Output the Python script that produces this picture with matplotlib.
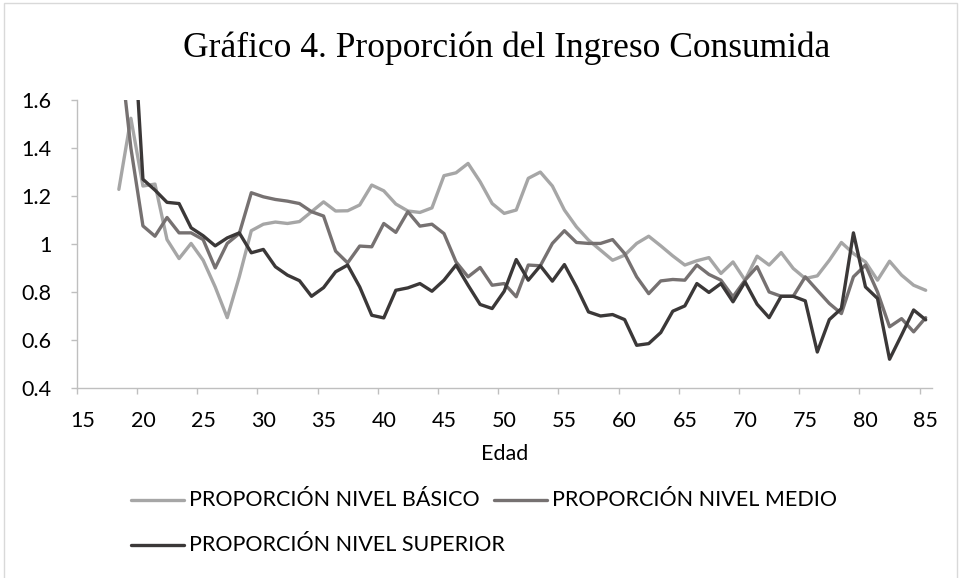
import numpy as np
import matplotlib
matplotlib.use("Agg")
import matplotlib.pyplot as plt
from matplotlib.lines import Line2D
from matplotlib.patches import Rectangle

# ---------------- data ----------------
edad = [18, 19, 20, 21, 22, 23, 24, 25, 26, 27, 28, 29, 30, 31, 32, 33, 34, 35,
        36, 37, 38, 39, 40, 41, 42, 43, 44, 45, 46, 47, 48, 49, 50, 51, 52, 53,
        54, 55, 56, 57, 58, 59, 60, 61, 62, 63, 64, 65, 66, 67, 68, 69, 70, 71,
        72, 73, 74, 75, 76, 77, 78, 79, 80, 81, 82, 83, 84, 85]

basico = [1.228, 1.524, 1.242, 1.250, 1.019, 0.940, 1.003, 0.933, 0.822, 0.694,
          0.864, 1.056, 1.083, 1.092, 1.086, 1.094, 1.135, 1.176, 1.138, 1.139,
          1.163, 1.246, 1.222, 1.167, 1.138, 1.132, 1.151, 1.285, 1.297, 1.336,
          1.260, 1.169, 1.128, 1.142, 1.274, 1.300, 1.242, 1.142, 1.072, 1.017,
          0.975, 0.933, 0.954, 1.003, 1.033, 0.993, 0.951, 0.913, 0.931, 0.944,
          0.878, 0.926, 0.850, 0.950, 0.913, 0.965, 0.899, 0.857, 0.868, 0.933,
          1.007, 0.961, 0.926, 0.850, 0.929, 0.871, 0.829, 0.808]

medio = [1.850, 1.400, 1.076, 1.033, 1.111, 1.047, 1.047, 1.019, 0.901, 1.003,
         1.044, 1.214, 1.197, 1.186, 1.179, 1.169, 1.135, 1.117, 0.971, 0.922,
         0.992, 0.989, 1.086, 1.049, 1.135, 1.075, 1.083, 1.044, 0.926, 0.864,
         0.903, 0.829, 0.836, 0.781, 0.913, 0.910, 1.003, 1.056, 1.007, 1.003,
         1.003, 1.019, 0.961, 0.864, 0.794, 0.847, 0.853, 0.850, 0.913, 0.874,
         0.850, 0.781, 0.850, 0.906, 0.801, 0.783, 0.783, 0.864, 0.808, 0.753,
         0.711, 0.864, 0.913, 0.801, 0.656, 0.690, 0.635, 0.694]

superior = [np.nan, 2.100, 1.270, 1.225, 1.174, 1.169, 1.068, 1.035, 0.993, 1.026,
            1.047, 0.964, 0.978, 0.906, 0.871, 0.848, 0.783, 0.819, 0.885, 0.913,
            0.822, 0.704, 0.693, 0.808, 0.818, 0.836, 0.804, 0.850, 0.913, 0.829,
            0.749, 0.732, 0.804, 0.936, 0.850, 0.910, 0.846, 0.915, 0.822, 0.718,
            0.701, 0.707, 0.686, 0.579, 0.586, 0.632, 0.721, 0.743, 0.836, 0.799,
            0.836, 0.760, 0.843, 0.750, 0.694, 0.783, 0.783, 0.764, 0.551, 0.686,
            0.732, 1.047, 0.822, 0.774, 0.521, 0.622, 0.726, 0.685]

series_names = ["PROPORCIÓN NIVEL BÁSICO", "PROPORCIÓN NIVEL MEDIO",
                "PROPORCIÓN NIVEL SUPERIOR"]
x_labels = [15, 20, 25, 30, 35, 40, 45, 50, 55, 60, 65, 70, 75, 80, 85]
y_ticks = [0.4, 0.6, 0.8, 1.0, 1.2, 1.4, 1.6]
y_labels = ["0.4", "0.6", "0.8", "1", "1.2", "1.4", "1.6"]

# ---------------- style ----------------
colors = ["#a6a6a6", "#767171", "#3b3838"]
sans = ["Lato", "DejaVu Sans"]
W, H = 960, 578
FS = 15.5

fig = plt.figure(figsize=(W / 100, H / 100), dpi=100)
fig.patch.set_facecolor("white")

# chart-area border
fig.add_artist(Rectangle((4 / W, -0.01), (957 - 4) / W, 1 - 3 / H + 0.01,
                         transform=fig.transFigure, fill=False,
                         edgecolor="#d9d9d9", linewidth=1.0))

left, right = 76.7 / W, 931.7 / W
top, bottom = 1 - 100 / H, 1 - 388.3 / H
ax = fig.add_axes([left, bottom, right - left, top - bottom])

lines = []
for vals, c in zip([basico, medio, superior], colors):
    ln, = ax.plot(edad, vals, color=c, linewidth=2.4, solid_joinstyle="round",
                  solid_capstyle="round", clip_on=True)
    lines.append(ln)

ax.set_xlim(14.5, 85.5)
ax.set_ylim(0.4, 1.6)

for s in ["top", "right"]:
    ax.spines[s].set_visible(False)
for s in ["left", "bottom"]:
    ax.spines[s].set_color("#bfbfbf")
    ax.spines[s].set_linewidth(1.0)

ax.set_yticks(y_ticks)
ax.set_yticklabels(y_labels, fontfamily=sans, fontsize=FS)
ax.tick_params(axis="y", direction="out", length=4, width=1.0, color="#bfbfbf",
               pad=14, labelcolor="black")

ax.set_xticks(x_labels)
ax.set_xticklabels([str(v) for v in x_labels], fontfamily=sans, fontsize=FS)
ax.set_xticks([14.5 + 5 * k for k in range(15)], minor=True)
ax.tick_params(axis="x", which="major", length=0, pad=16, labelcolor="black")
ax.tick_params(axis="x", which="minor", direction="out", length=4, width=1.0,
               color="#bfbfbf")

ax.set_xlabel("Edad", fontfamily=sans, fontsize=FS)
ax.xaxis.set_label_coords(0.5, -(454 - 388.3) / (388.3 - 100), transform=ax.transAxes)
ax.xaxis.label.set_verticalalignment("center")

fig.text(507 / W, 1 - 48 / H, "Gráfico 4. Proporción del Ingreso Consumida",
         ha="center", va="center", fontfamily="Liberation Serif", fontsize=25.5)

# legend (Excel-like row-major layout)
legend_pos = [(131, 500), (494, 500), (131, 545)]
for ln, name, (lx, ly) in zip(lines, series_names, legend_pos):
    fig.add_artist(Line2D([lx / W, (lx + 53) / W], [1 - ly / H, 1 - ly / H],
                          transform=fig.transFigure, color=ln.get_color(),
                          linewidth=2.4, solid_capstyle="round"))
    fig.text((lx + 58) / W, 1 - ly / H, name, ha="left", va="center",
             fontfamily=sans, fontsize=FS)

fig.savefig("out.png", dpi=100, facecolor="white")
